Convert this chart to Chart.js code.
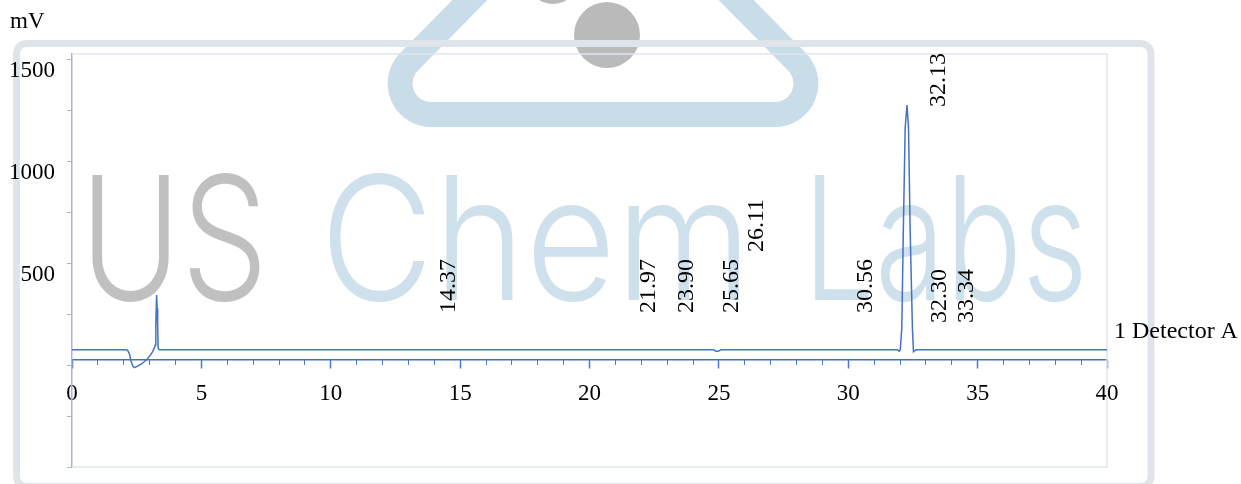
<!DOCTYPE html>
<html>
<head>
<meta charset="utf-8">
<title>Chromatogram - Detector A</title>
<script src="https://cdn.jsdelivr.net/npm/chart.js@4.4.1/dist/chart.umd.min.js"></script>
<style>
    html, body { margin: 0; padding: 0; background: #fff; }
    #wrap { width: 1241px; height: 484px; }
</style>
</head>
<body>
<div id="wrap"><canvas id="chromChart" width="1241" height="484"></canvas></div>
<script>
// Retention time (min) and detector signal (mV)
const timeMin = [0, 2.1, 2.15, 2.22, 2.28, 2.35, 2.41, 2.5, 2.6, 2.7,
    2.79, 2.9, 2.98, 3.05, 3.11, 3.17, 3.22, 3.24, 3.27, 3.29,
    3.31, 3.33, 3.37, 24.8, 24.88, 24.94, 25.02, 25.08, 31.9, 31.97,
    32.01, 32.07, 32.13, 32.2, 32.27, 32.33, 32.39, 32.48, 32.52, 32.57,
    32.62, 40];
const signalMv = [75, 75, 72, 55, 20, -5, -13, -8, 0, 7,
    16, 28, 41, 52, 65, 80, 98, 196, 343, 280,
    196, 83, 75, 75, 68, 68, 70, 75, 75, 68,
    75, 181, 672, 1162, 1275, 1162, 672, 181, 65, 70,
    75, 75];

// Peak annotations (retention times as printed) and where they sit
const peakNames = ['14.37', '21.97', '23.90', '25.65', '26.11', '30.56', '32.13', '32.30', '33.34'];
const peakLabelTime = [14.56, 22.3, 23.77, 25.51, 26.45, 30.66, 33.51, 33.55, 34.58];
const peakLabelMv = [255, 255, 255, 255, 554, 255, 1265, 206, 206];

// Axes
const yTickValues = [-500, -250, 0, 250, 500, 750, 1000, 1250, 1500];
const yLabelValues = [500, 1000, 1500];
const xAxisAtMv = 25;

const serif = 'Liberation Serif, "Times New Roman", serif';
const traceBlue = '#4472c4';

// Faint company watermark behind the plot
const watermarkPlugin = {
    id: 'watermark',
    beforeDraw(chart) {
        const ctx = chart.ctx;
        ctx.save();

        // flask outline
        ctx.strokeStyle = '#c9dde9';
        ctx.lineWidth = 25;
        ctx.lineJoin = 'round';
        ctx.beginPath();
        ctx.moveTo(603, -135);
        ctx.arcTo(357, 114.5, 603, 114.5, 31);
        ctx.arcTo(849, 114.5, 603, -135, 31);
        ctx.lineTo(603, -135);
        ctx.stroke();

        // bubbles
        ctx.fillStyle = '#bababa';
        ctx.beginPath();
        ctx.arc(607, 35, 33, 0, Math.PI * 2);
        ctx.fill();
        ctx.beginPath();
        ctx.arc(553, -21, 25, 0, Math.PI * 2);
        ctx.fill();

        // lettering, fitted to the widths seen in the picture
        const words = [
            { text: 'US', x: 80, w: 188, color: '#c0c0c0' },
            { text: 'Chem', x: 320, w: 432, color: '#cde0eb' },
            { text: 'Labs', x: 803, w: 285, color: '#cde0eb' }
        ];
        ctx.font = '350 172px Inter, "Liberation Sans", Arial, sans-serif';
        ctx.textBaseline = 'alphabetic';
        ctx.textAlign = 'left';
        words.forEach(word => {
            const measured = ctx.measureText(word.text).width;
            ctx.save();
            ctx.translate(word.x, 300);
            ctx.scale(word.w / measured, 1);
            ctx.fillStyle = word.color;
            ctx.fillText(word.text, 0, 0);
            ctx.restore();
        });

        // frame
        ctx.strokeStyle = '#dfe4ea';
        ctx.lineWidth = 7;
        ctx.beginPath();
        ctx.roundRect(16.5, 43.5, 1134.5, 443, 10);
        ctx.stroke();

        ctx.restore();
    }
};

// Plot box, unit label, detector name and peak labels
const annotationPlugin = {
    id: 'annotations',
    beforeDatasetsDraw(chart) {
        const { ctx, chartArea } = chart;
        ctx.save();
        ctx.strokeStyle = '#dfe5ee';
        ctx.lineWidth = 1.5;
        ctx.beginPath();
        ctx.moveTo(chartArea.left, chartArea.top);
        ctx.lineTo(chartArea.right, chartArea.top);
        ctx.lineTo(chartArea.right, chartArea.bottom);
        ctx.lineTo(chartArea.left, chartArea.bottom);
        ctx.stroke();
        ctx.restore();
    },
    afterDraw(chart) {
        const ctx = chart.ctx;
        const xScale = chart.scales.x;
        const yScale = chart.scales.y;
        ctx.save();
        ctx.fillStyle = '#000';

        ctx.font = '23px ' + serif;
        ctx.textAlign = 'left';
        ctx.textBaseline = 'middle';
        ctx.fillText('mV', 10, 22);

        ctx.font = '24px ' + serif;
        ctx.fillText('1 Detector A', 1114, 332);

        ctx.font = '24px ' + serif;
        peakNames.forEach((name, i) => {
            const px = xScale.getPixelForValue(peakLabelTime[i]);
            const py = yScale.getPixelForValue(peakLabelMv[i]);
            ctx.save();
            ctx.translate(px, py);
            ctx.rotate(-Math.PI / 2);
            ctx.fillText(name, 0, 0);
            ctx.restore();
        });
        ctx.restore();
    }
};

const tickFont = { family: serif, size: 23 };

new Chart(document.getElementById('chromChart'), {
    type: 'line',
    data: {
        datasets: [{
            label: '1 Detector A',
            data: timeMin.map((t, i) => ({ x: t, y: signalMv[i] })),
            borderColor: traceBlue,
            borderWidth: 1.5,
            pointRadius: 0,
            tension: 0,
            fill: false
        }]
    },
    options: {
        responsive: false,
        animation: false,
        layout: { padding: { left: 0, right: 134, top: 54, bottom: 17 } },
        plugins: {
            legend: { display: false },
            tooltip: { enabled: false }
        },
        scales: {
            x: {
                type: 'linear',
                position: { y: xAxisAtMv },
                min: 0,
                max: 40,
                ticks: { stepSize: 5, color: '#000', font: tickFont, padding: 12, maxRotation: 0, autoSkip: false },
                grid: { drawOnChartArea: false, tickLength: 8, tickColor: '#4a78cf', tickWidth: 1.5 },
                border: { display: true, color: traceBlue, width: 1.5 }
            },
            xMinor: {
                type: 'linear',
                axis: 'x',
                position: { y: xAxisAtMv },
                min: 0,
                max: 40,
                ticks: { stepSize: 1, display: false, autoSkip: false },
                grid: { drawOnChartArea: false, tickLength: 5, tickColor: '#4a78cf', tickWidth: 1 },
                border: { display: false }
            },
            y: {
                type: 'linear',
                min: -500,
                max: 1525,
                afterBuildTicks(scale) {
                    scale.ticks = yTickValues.map(v => ({ value: v }));
                },
                afterFit(scale) {
                    scale.width = 72;
                    // the shifted labels must not push the plot box in
                    scale.paddingTop = 0;
                    scale.paddingBottom = 0;
                },
                ticks: {
                    callback: value => yLabelValues.includes(value) ? String(value) : '',
                    color: '#000',
                    font: tickFont,
                    padding: 12,
                    labelOffset: 12
                },
                grid: { drawOnChartArea: false, tickLength: 5, tickColor: '#a8b6cc' },
                border: { color: '#a8b6cc', width: 1.5 }
            }
        }
    },
    plugins: [watermarkPlugin, annotationPlugin]
});
</script>
</body>
</html>
